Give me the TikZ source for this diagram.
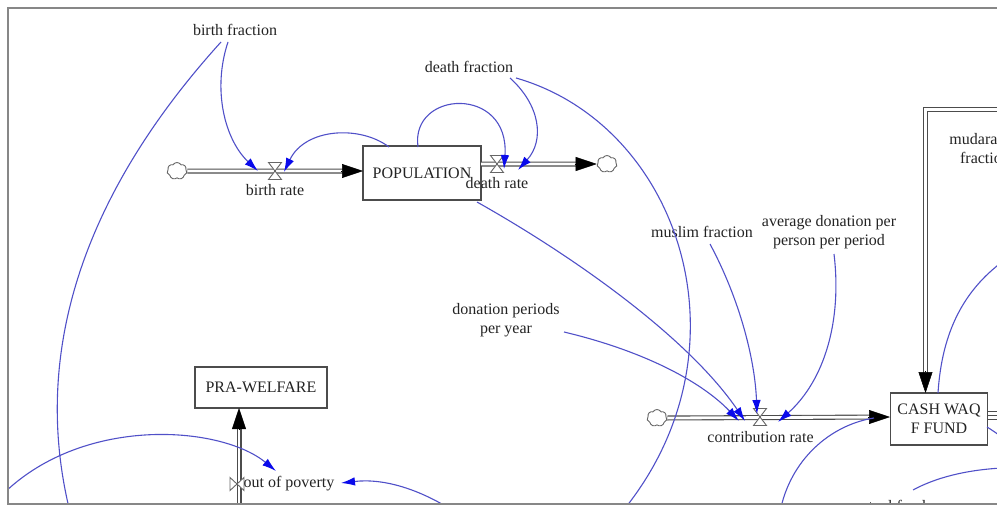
\documentclass[tikz,border=0pt]{standalone}
\usepackage{fontspec}
\setmainfont{Liberation Serif}
\usetikzlibrary{arrows.meta,shapes.symbols,calc}
\definecolor{linkc}{RGB}{80,80,200}
\definecolor{tipc}{RGB}{10,10,235}
\definecolor{txtc}{RGB}{35,35,35}
\definecolor{framec}{RGB}{135,135,135}
\begin{document}
\begin{tikzpicture}[x=1pt,y=-1pt,
  lbl/.style={font=\fontsize{16}{19}\selectfont, text=txtc, inner sep=0pt, align=center},
  stockbox/.style={lbl, draw=black!70, line width=1.1pt, fill=white},
  pipe/.style={draw=black!70, double=white, double distance=2.8pt, line width=1.1pt},
  pipetip/.style={draw=black, line width=0.5pt, -{Triangle[length=21pt,width=14pt]}},
  link/.style={draw=linkc, line width=1.1pt},
  linkarr/.style={link, -{Latex[length=14pt,width=8.5pt,color=tipc]}},
  cloudsym/.style={cloud, cloud puffs=7, cloud puff arc=120, aspect=1.2, draw=black!60, line width=0.9pt, fill=white, minimum width=20pt, minimum height=17pt, inner sep=0pt},
  valvestyle/.style={draw=black!60, line width=0.9pt, fill=white},
  hvalve/.pic={\draw[valvestyle] (-6.5,-8.5) -- (6.5,-8.5) -- (-6.5,8.5) -- (6.5,8.5) -- cycle;},
  vvalve/.pic={\draw[valvestyle] (-7,-6.5) -- (-7,6.5) -- (7,-6.5) -- (7,6.5) -- cycle;}
]
\useasboundingbox (0,0) rectangle (997,506);
\begin{scope}
\clip (8,8) rectangle (997,504);
% stocks
\node[stockbox, minimum width=118pt, minimum height=54pt] (pop) at (422,173) {POPULATION};
\node[stockbox, minimum width=97pt, minimum height=52pt] (cash) at (939,419) {CASH WAQ\\F FUND};
\node[stockbox, minimum width=132pt, minimum height=41pt] (pra) at (261,387.5) {PRA-WELFARE};
% clouds
\node[cloudsym] (c1) at (177,171) {};
\node[cloudsym] (c2) at (607,164) {};
\node[cloudsym] (c3) at (657,418) {};
% flow pipes
\coordinate (popin) at (363,171);
\coordinate (popout) at (481,164);
\coordinate (cashin) at (890,417);
\coordinate (mudin) at (1005,109.5);
\coordinate (mudcorner) at (925.5,109.5);
\coordinate (cashtop) at (925.5,393);
\coordinate (praout) at (239,408);
\coordinate (prabase) at (239,512);
\coordinate (cashr1) at (988,411.5);
\coordinate (cashr2) at (988,415.5);
\coordinate (cashr3) at (988,419.5);
\draw[pipe, shorten >=20pt] (c1.east) -- (popin);
\draw[pipetip] ($(popin)+(-22,0)$) -- (popin);
\draw[pipe, shorten >=20pt] (popout) -- (c2.west);
\draw[pipetip] ($(c2.west)+(-22,0)$) -- (c2.west);
\draw[pipe, shorten >=20pt] (c3.east) -- (cashin);
\draw[pipetip] ($(cashin)+(-22,0)$) -- (cashin);
\draw[pipe, shorten >=20pt] (mudin) -- (mudcorner) -- (cashtop);
\draw[pipetip] ($(cashtop)+(0,-22)$) -- (cashtop);
\draw[pipe, shorten >=20pt] (prabase) -- (praout);
\draw[pipetip] ($(praout)+(0,22)$) -- (praout);
\draw[black!70, line width=0.9pt] (cashr1) -- ++(20,0) (cashr2) -- ++(20,0) (cashr3) -- ++(20,0);
% valves
\pic at (275,171) {hvalve};
\pic at (497,164) {hvalve};
\pic at (760,417) {hvalve};
\pic at (237,484) {vvalve};
% labels
\node[lbl] (brate) at (275,190) {birth rate};
\node[lbl] (drate) at (497,183) {death rate};
\node[lbl] (crate) at (760.5,437) {contribution rate};
\node[lbl] (opov) at (289,484) {out of poverty};
\node[lbl] (bf) at (235,30) {birth fraction};
\node[lbl] (df) at (469,67) {death fraction};
\node[lbl] (mf) at (702,232) {muslim fraction};
\node[lbl] (avg) at (829,232.5) {average donation per\\person per period};
\node[lbl] (dp) at (506,320.5) {donation periods\\per year};
\node[lbl] (mud) at (985,149) {mudarabah\\fraction};
\node[lbl] (mut) at (887,506) {mutual fund};
% connector end points
\coordinate (bfa) at (228,42);
\coordinate (bfb) at (221,42);
\coordinate (brl) at (258,171);
\coordinate (brr) at (284,172);
\coordinate (popt1) at (389,147);
\coordinate (popt2) at (418,147);
\coordinate (popb) at (477,202);
\coordinate (drl) at (504,169);
\coordinate (drr) at (518,170);
\coordinate (dfa) at (510,78);
\coordinate (dfb) at (516,78);
\coordinate (cr1) at (745,421);
\coordinate (cr2) at (739,421);
\coordinate (cr3) at (757,414);
\coordinate (cr4) at (778,422);
\coordinate (dpa) at (564,332);
\coordinate (mfa) at (710,244);
\coordinate (avga) at (834,254);
\coordinate (offl) at (70,512);
\coordinate (offd) at (622,512);
\coordinate (offb) at (780,512);
\coordinate (cashl) at (874,418);
\coordinate (casht) at (938,393);
\coordinate (offr1) at (1002,262);
\coordinate (offr2) at (1002,437);
\coordinate (cashr) at (987,427);
\coordinate (mutf) at (913,490);
\coordinate (offr3) at (1002,468);
\coordinate (offleft) at (0,497);
\coordinate (opl) at (276,471);
\coordinate (opr) at (341,483);
\coordinate (offbot) at (452,510);
% connectors
\draw[linkarr] (bfa) .. controls (212,90) and (225,140) .. (brl);
\draw[link] (bfb) .. controls (105,170) and (25,330) .. (offl);
\draw[linkarr] (popt1) .. controls (360,125) and (305,128) .. (brr);
\draw[linkarr] (popt2) .. controls (410,90) and (510,85) .. (drl);
\draw[linkarr] (dfa) .. controls (540,105) and (545,140) .. (drr);
\draw[link] (dfb) .. controls (680,125) and (755,350) .. (offd);
\draw[linkarr] (popb) .. controls (580,260) and (690,340) .. (cr1);
\draw[linkarr] (dpa) .. controls (640,350) and (700,380) .. (cr2);
\draw[linkarr] (mfa) .. controls (740,300) and (755,360) .. (cr3);
\draw[linkarr] (avga) .. controls (842,320) and (825,380) .. (cr4);
\draw[link] (offb) .. controls (790,460) and (830,425) .. (cashl);
\draw[link] (casht) .. controls (942,330) and (965,290) .. (offr1);
\draw[link] (offr2) .. controls (996,433) and (992,430) .. (cashr);
\draw[link] (mutf) .. controls (935,478) and (965,470) .. (offr3);
\draw[linkarr] (offleft) .. controls (80,415) and (220,425) .. (opl);
\draw[linkarr] (offbot) .. controls (420,490) and (385,478) .. (opr);
\end{scope}
\draw[framec, line width=1.5pt] (1000,8) -- (8,8) -- (8,504) -- (1000,504);
\end{tikzpicture}
\end{document}
